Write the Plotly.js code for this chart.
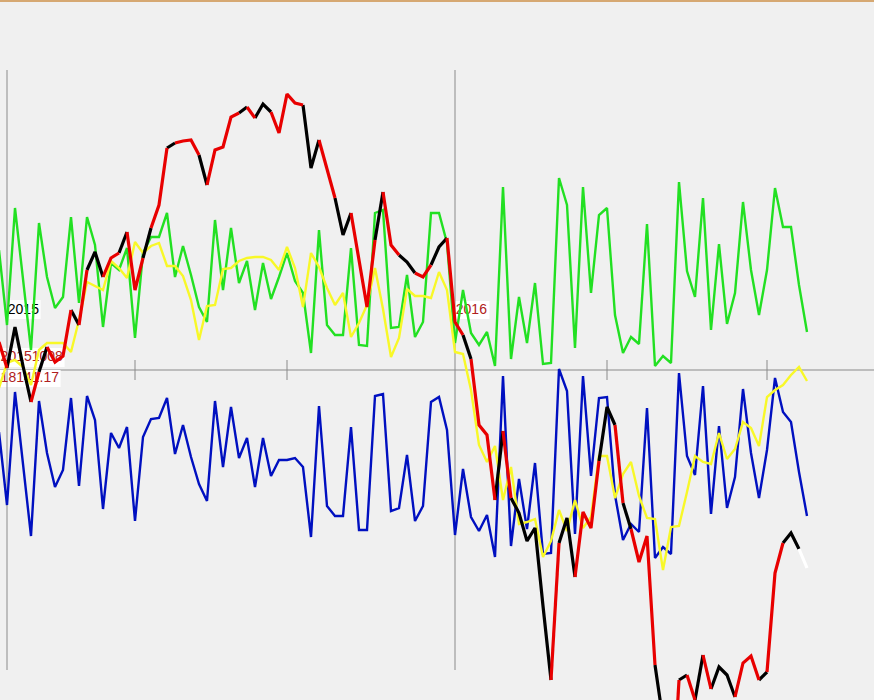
<!DOCTYPE html>
<html>
<head>
<meta charset="utf-8">
<script src="https://cdn.plot.ly/plotly-3.0.1.min.js"></script>
<style>
html,body{margin:0;padding:0;background:#f0f0f0;}
#chart{width:874px;height:700px;}
</style>
</head>
<body>
<div id="chart"></div>
<script>
// ---- data (zero = the horizontal axis line) ----
var price = [28,2,43,4,-32,-2,23,8,14,60,45,100,118,93,112,117,138,80,112,142,
  165,222,227,229,230,215,185,220,223,253,257,263,252,266,258,237,276,267,265,202,
  230,202,172,135,157,110,63,130,178,125,115,108,97,93,105,123,132,48,35,11,
  -55,-65,-130,-61,-128,-143,-171,-158,-236,-310,-173,-148,-207,-142,-158,-91,-37,-55,-133,-159,
  -192,-166,-295,-350,-450,-310,-305,-330,-285,-319,-297,-305,-327,-293,-286,-310,-302,-203,-173,-163,
  -179,-198];
// colour of each price segment (from point i to i+1): R red, B black, W white
var segColor = ["R","B","B","B","R","B","R","R","R","B",
  "R","B","B","R","R","B","R","R","B","R",
  "R","B","R","R","R","B","R","R","R","R",
  "B","R","B","B","R","R","R","R","B","B",
  "R","R","B","B","R","R","R","B","R","R",
  "B","B","R","R","B","B","R","R","B","R",
  "R","R","B","R","B","B","B","B","B","R",
  "B","B","R","R","R","B","B","R","B","R",
  "R","R","B","B","R","B","R","B","R","B",
  "B","B","R","R","R","B","R","R","B","B",
  "W"];
var green = [120,45,162,93,20,147,93,62,73,153,67,153,125,43,107,100,122,32,117,133,
  133,157,93,124,95,63,48,150,80,142,87,109,60,107,71,93,117,89,77,17,
  140,45,35,35,122,25,24,157,160,42,43,95,33,48,157,157,127,27,80,37,
  25,38,4,183,11,73,27,87,6,7,192,165,22,183,77,155,162,55,17,33,
  26,146,4,14,7,188,99,73,172,40,126,46,77,168,100,55,100,182,143,143,
  85,38];
var blue = [-62,-135,-22,-93,-166,-31,-83,-117,-100,-28,-116,-26,-50,-139,-63,-78,-57,-151,-67,-49,
  -48,-28,-84,-55,-87,-114,-131,-31,-97,-37,-88,-68,-117,-68,-106,-90,-90,-88,-97,-167,
  -36,-136,-146,-146,-57,-160,-160,-26,-24,-141,-138,-85,-151,-136,-32,-27,-60,-165,-99,-147,
  -161,-145,-187,-6,-176,-109,-159,-93,-184,-183,1,-21,-164,-6,-106,-28,-27,-125,-170,-154,
  -162,-38,-188,-177,-184,-3,-86,-105,-16,-144,-56,-138,-107,-19,-83,-128,-80,-8,-42,-52,
  -102,-146];
var yellow = [-18,7,10,3,-15,20,27,27,27,18,50,88,84,80,109,102,92,128,117,124,
  127,104,104,94,70,30,64,65,101,102,109,112,113,113,110,100,123,102,63,117,
  103,82,65,77,33,47,65,102,61,13,32,81,74,74,72,98,80,18,16,-20,
  -75,-92,-76,-130,-97,-154,-152,-149,-187,-171,-140,-161,-130,-158,-147,-86,-86,-128,-104,-92,
  -126,-148,-149,-200,-157,-156,-122,-86,-92,-94,-63,-89,-79,-52,-58,-76,-27,-20,-15,-5,
  3,-11];
var yearIdx = [1, 57];
var yearLabels = ["2015", "2016"];
var tickIdx = [17, 36, 76, 96];
var infoLabels = ["20151008", "18141.17"];

// ---- build traces ----
var idx = green.map(function(_, i){ return i; });
var traces = [];

// labels drawn first so lines pass over them
var FONT = "Liberation Sans, Arial, sans-serif";
function label(x, y, txt, col){
  return {x:[x], y:[y], mode:"text", text:[txt], textposition:"middle right",
    textfont:{family:FONT, size:14, color:col}, hoverinfo:"skip", showlegend:false, cliponaxis:false};
}
traces.push(label(yearIdx[0]+0.1, 60, yearLabels[0], "#000000"));
traces.push(label(yearIdx[1]+0.1, 60, yearLabels[1], "#b02020"));
traces.push(label(0.2, 13, infoLabels[0], "#b02020"));
traces.push(label(0.2, -8, infoLabels[1], "#b02020"));

traces.push({x:idx, y:green, mode:"lines", line:{color:"#22e022", width:2.4}, hoverinfo:"skip", showlegend:false});
traces.push({x:idx, y:blue, mode:"lines", line:{color:"#0010c0", width:2.4}, hoverinfo:"skip", showlegend:false});
traces.push({x:idx, y:yellow, mode:"lines", line:{color:"#f8f828", width:2.4}, hoverinfo:"skip", showlegend:false});

function colourTrace(code, col){
  var xs = [], ys = [], i = 0;
  while (i < segColor.length){
    if (segColor[i] === code){
      xs.push(i); ys.push(price[i]);
      while (i < segColor.length && segColor[i] === code){
        xs.push(i+1); ys.push(price[i+1]); i++;
      }
      xs.push(null); ys.push(null);
    } else i++;
  }
  return {x:xs, y:ys, mode:"lines", connectgaps:false, line:{color:col, width:3.2}, hoverinfo:"skip", showlegend:false};
}
traces.push(colourTrace("B", "#000000"));
traces.push(colourTrace("R", "#e80000"));
traces.push(colourTrace("W", "#ffffff"));

// ---- shapes ----
var GRID = "#8a8a8a";
var shapes = [];
shapes.push({type:"rect", xref:"x", yref:"y", x0:1, x1:5.2, y0:51, y1:70, fillcolor:"#ffffff", line:{width:0}, layer:"below"});
shapes.push({type:"rect", xref:"x", yref:"y", x0:57, x1:61.3, y0:51, y1:69, fillcolor:"#ffffff", line:{width:0}, layer:"below"});
shapes.push({type:"rect", xref:"x", yref:"y", x0:0, x1:8.2, y0:3, y1:22, fillcolor:"#ffffff", line:{width:0}, layer:"below"});
shapes.push({type:"rect", xref:"x", yref:"y", x0:0, x1:7.7, y0:-17, y1:0, fillcolor:"#ffffff", line:{width:0}, layer:"below"});
shapes.push({type:"line", xref:"paper", yref:"y", x0:0, x1:1, y0:0, y1:0, line:{color:GRID, width:1}, layer:"below"});
yearIdx.forEach(function(k){
  shapes.push({type:"line", xref:"x", yref:"y", x0:k, x1:k, y0:-300, y1:300, line:{color:GRID, width:1}, layer:"below"});
});
tickIdx.forEach(function(k){
  shapes.push({type:"line", xref:"x", yref:"y", x0:k, x1:k, y0:-10, y1:10, line:{color:GRID, width:1}, layer:"below"});
});
shapes.push({type:"line", xref:"paper", yref:"paper", x0:0, x1:1, y0:0.9986, y1:0.9986, line:{color:"#d6a872", width:2}});

var layout = {
  width:874, height:700,
  margin:{l:0, r:0, t:0, b:0, pad:0},
  paper_bgcolor:"#f0f0f0", plot_bgcolor:"#f0f0f0",
  showlegend:false,
  xaxis:{range:[0.125, 109.375], visible:false, showgrid:false, zeroline:false, fixedrange:true},
  yaxis:{range:[-330, 370], visible:false, showgrid:false, zeroline:false, fixedrange:true},
  shapes:shapes,
  hovermode:false
};
Plotly.newPlot("chart", traces, layout, {staticPlot:true, displayModeBar:false});
</script>
</body>
</html>
